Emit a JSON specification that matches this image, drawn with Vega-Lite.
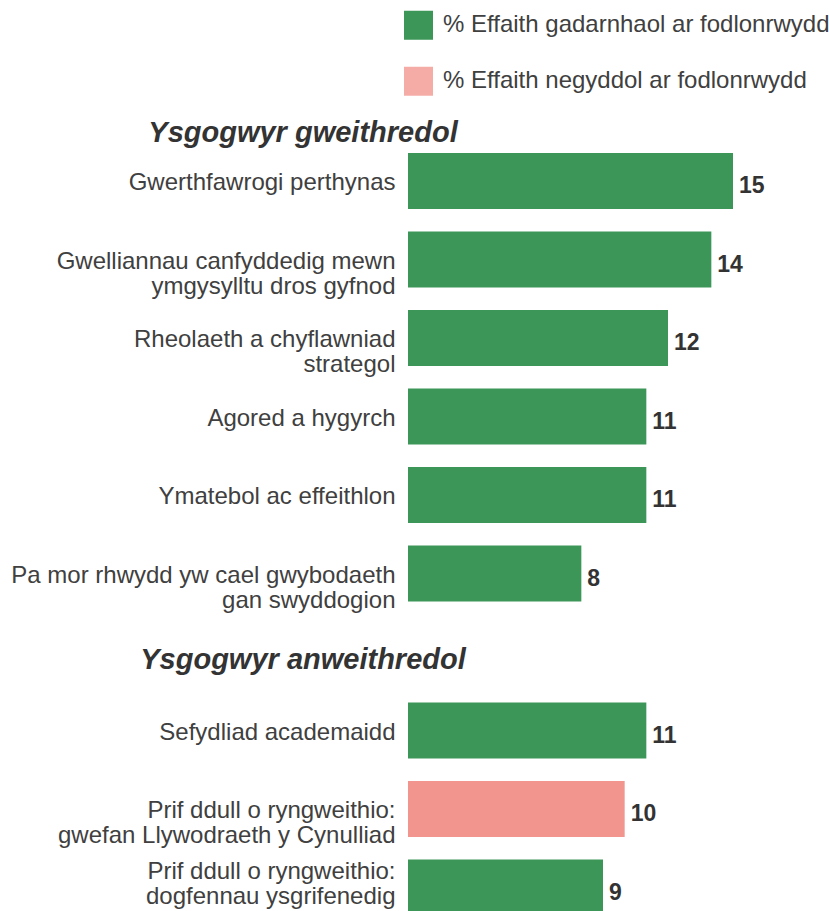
{
  "$schema": "https://vega.github.io/schema/vega-lite/v6.json",
  "autosize": {"type": "none"},
  "padding": {"left": 408, "right": 96, "top": 63.25, "bottom": 0},
  "width": 325,
  "height": 847.75,
  "background": "white",
  "config": {
    "view": {"stroke": null},
    "font": "Liberation Sans"
  },
  "datasets": {
    "bars": [
      {"label": "Gwerthfawrogi perthynas", "value": 15, "type": "% Effaith gadarnhaol ar fodlonrwydd"},
      {"label": "Gwelliannau canfyddedig mewn|ymgysylltu dros gyfnod", "value": 14, "type": "% Effaith gadarnhaol ar fodlonrwydd"},
      {"label": "Rheolaeth a chyflawniad|strategol", "value": 12, "type": "% Effaith gadarnhaol ar fodlonrwydd"},
      {"label": "Agored a hygyrch", "value": 11, "type": "% Effaith gadarnhaol ar fodlonrwydd"},
      {"label": "Ymatebol ac effeithlon", "value": 11, "type": "% Effaith gadarnhaol ar fodlonrwydd"},
      {"label": "Pa mor rhwydd yw cael gwybodaeth|gan swyddogion", "value": 8, "type": "% Effaith gadarnhaol ar fodlonrwydd"},
      {"label": "Sefydliad academaidd", "value": 11, "type": "% Effaith gadarnhaol ar fodlonrwydd"},
      {"label": "Prif ddull o ryngweithio:|gwefan Llywodraeth y Cynulliad", "value": 10, "type": "% Effaith negyddol ar fodlonrwydd"},
      {"label": "Prif ddull o ryngweithio:|dogfennau ysgrifenedig", "value": 9, "type": "% Effaith gadarnhaol ar fodlonrwydd"}
    ],
    "h1": [{"row": "h1", "heading": "Ysgogwyr gweithredol"}],
    "h2": [{"row": "h2", "heading": "Ysgogwyr anweithredol"}]
  },
  "layer": [
    {
      "data": {"name": "bars"},
      "mark": {"type": "bar", "clip": false},
      "encoding": {
        "y": {
          "field": "label",
          "type": "nominal",
          "scale": {
            "domain": ["h1", "Gwerthfawrogi perthynas", "Gwelliannau canfyddedig mewn|ymgysylltu dros gyfnod", "Rheolaeth a chyflawniad|strategol", "Agored a hygyrch", "Ymatebol ac effeithlon", "Pa mor rhwydd yw cael gwybodaeth|gan swyddogion", "h2", "Sefydliad academaidd", "Prif ddull o ryngweithio:|gwefan Llywodraeth y Cynulliad", "Prif ddull o ryngweithio:|dogfennau ysgrifenedig"],
            "range": [0, 863.5],
            "paddingInner": 0.287,
            "paddingOuter": 0.1435
          },
          "axis": {
            "title": null,
            "domain": false,
            "ticks": false,
            "labelPadding": 13,
            "labelFontSize": 24,
            "labelColor": "#404040",
            "labelLimit": 500,
            "labelLineHeight": 25,
            "labelOffset": {"condition": {"test": "datum.value == 'Prif ddull o ryngweithio:|dogfennau ysgrifenedig'", "value": -16}, "value": 2},
            "labelExpr": "datum.value == 'h1' || datum.value == 'h2' ? '' : split(datum.value, '|')"
          }
        },
        "x": {
          "field": "value",
          "type": "quantitative",
          "scale": {"domain": [0, 15], "nice": false},
          "axis": null
        },
        "color": {
          "field": "type",
          "type": "nominal",
          "scale": {
            "domain": ["% Effaith gadarnhaol ar fodlonrwydd", "% Effaith negyddol ar fodlonrwydd"],
            "range": ["#3b9657", "#f2958e"]
          },
          "legend": {
            "title": null,
            "orient": "none",
            "legendX": -4,
            "legendY": -52.5,
            "symbolType": "square",
            "symbolSize": 841,
            "symbolStrokeWidth": 0,
            "labelFontSize": 24,
            "labelColor": "#404040",
            "labelOffset": 10,
            "labelLimit": 500,
            "rowPadding": 27,
            "padding": 0,
            "encode": {
              "symbols": {
                "update": {
                  "fillOpacity": {"signal": "datum.value === '% Effaith negyddol ar fodlonrwydd' ? 0.78 : 1"}
                }
              }
            }
          }
        }
      }
    },
    {
      "data": {"name": "bars"},
      "mark": {"type": "text", "align": "left", "baseline": "middle", "dx": 6, "dy": 5, "fontSize": 23, "fontWeight": "bold", "color": "#333333"},
      "encoding": {
        "y": {"field": "label", "type": "nominal"},
        "x": {"field": "value", "type": "quantitative"},
        "text": {"field": "value", "type": "quantitative"}
      }
    },
    {
      "data": {"name": "h1"},
      "mark": {"type": "text", "align": "center", "baseline": "middle", "dx": -105, "dy": 30.5, "fontSize": 29, "fontWeight": "bold", "fontStyle": "italic", "color": "#333333"},
      "encoding": {
        "y": {"field": "row", "type": "nominal"},
        "x": {"datum": 0, "type": "quantitative"},
        "text": {"field": "heading", "type": "nominal"}
      }
    },
    {
      "data": {"name": "h2"},
      "mark": {"type": "text", "align": "center", "baseline": "middle", "dx": -105, "dy": 8, "fontSize": 29, "fontWeight": "bold", "fontStyle": "italic", "color": "#333333"},
      "encoding": {
        "y": {"field": "row", "type": "nominal"},
        "x": {"datum": 0, "type": "quantitative"},
        "text": {"field": "heading", "type": "nominal"}
      }
    }
  ]
}
